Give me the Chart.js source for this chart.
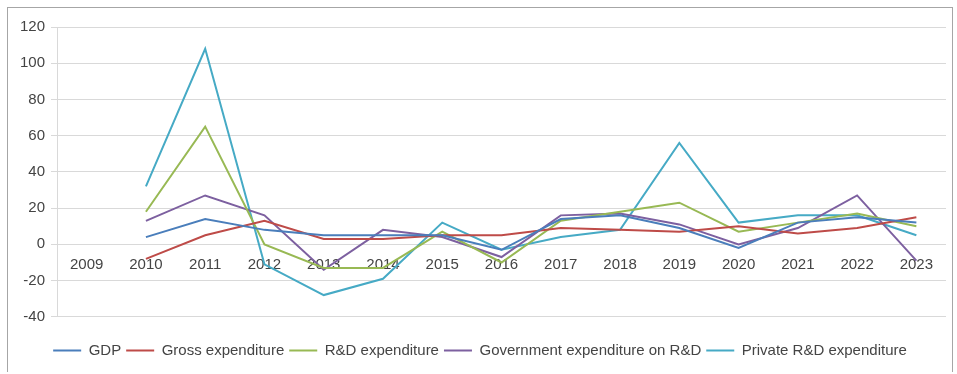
<!DOCTYPE html>
<html>
<head>
<meta charset="utf-8">
<script src="https://cdn.jsdelivr.net/npm/chart.js@4"></script>
<style>
  html, body { margin: 0; padding: 0; background: #fff; }
  #frame {
    position: absolute; left: 7px; top: 7px;
    width: 944px; height: 364px;
    border: 1px solid #a6a6a6; border-bottom: none;
  }
  #chart { display: block; }
</style>
</head>
<body>
<div id="frame"><canvas id="chart" width="944" height="364"></canvas></div>
<script>
'use strict';

/* ── Données ── */
var YEARS = ['2009', '2010', '2011', '2012', '2013', '2014', '2015', '2016',
             '2017', '2018', '2019', '2020', '2021', '2022', '2023'];

var GDP        = [null, 4, 14, 8, 5, 5, 5, -3, 14, 16, 9, -2, 12, 15, 12];
var GROSS      = [null, -8, 5, 13, 3, 3, 5, 5, 9, 8, 7, 10, 6, 9, 15];
var RD         = [null, 18, 65, 0, -13, -13, 7, -10, 13, 18, 23, 7, 12, 17, 10];
var GOV_RD     = [null, 13, 27, 16, -14, 8, 4, -7, 16, 17, 11, 0, 9, 27, -9];
var PRIVATE_RD = [null, 32, 108, -11, -28, -19, 12, -3, 4, 8, 56, 12, 16, 16, 5];

var Y_MIN = -40, Y_MAX = 120, Y_STEP = 20;

var FONT = { family: 'Liberation Sans', size: 15 };

function serie(label, data, color) {
    return {
        label:           label,
        data:            data,
        borderColor:     color,
        backgroundColor: color,
        borderWidth:     2,
        pointRadius:     0,
        tension:         0,
        fill:            false
    };
}

var datasets = [
    serie('GDP', GDP, '#4a7ebb'),
    serie('Gross expenditure', GROSS, '#be4b48'),
    serie('R&D expenditure', RD, '#98b954'),
    serie('Government expenditure on R&D', GOV_RD, '#7d60a0'),
    serie('Private R&D expenditure', PRIVATE_RD, '#46aac5')
];

new Chart(document.getElementById('chart'), {
    type: 'line',
    data: { labels: YEARS, datasets: datasets },
    options: {
        responsive: false,
        animation: false,
        layout: { padding: { top: 19, right: 6, bottom: 4, left: 6 } },
        scales: {
            x: {
                position: { y: 0 },
                offset: true,
                grid: { display: false, drawTicks: false },
                border: { display: false },
                ticks: { color: '#444', font: FONT, padding: 12, maxRotation: 0, autoSkip: false }
            },
            y: {
                min: Y_MIN,
                max: Y_MAX,
                ticks: { stepSize: Y_STEP, color: '#444', font: FONT, padding: 6 },
                grid: { color: '#d9d9d9', lineWidth: 1, drawTicks: true, tickLength: 6 },
                border: { display: true, color: '#d9d9d9' }
            }
        },
        plugins: {
            legend: {
                position: 'bottom',
                title: { display: true, text: ' ', font: { size: 1 }, padding: { top: 0, bottom: 20 } },
                labels: {
                    usePointStyle: true,
                    pointStyle: 'line',
                    pointStyleWidth: 28,
                    padding: 5,
                    color: '#444',
                    font: FONT
                }
            },
            tooltip: { enabled: false }
        }
    }
});
</script>
</body>
</html>
